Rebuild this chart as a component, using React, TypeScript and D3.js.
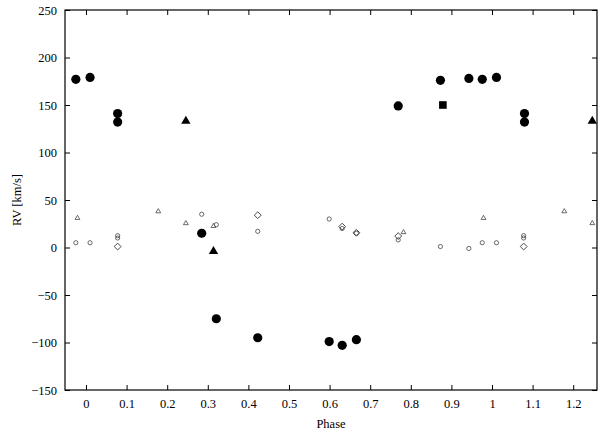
import * as d3 from "d3";
import { useEffect, useRef } from "react";

// star RV curve: primary (big filled) and secondary/lines (small open)
const bigCirclePhase = [-0.025, 0.01, 0.078, 0.078, 0.285, 0.321, 0.423, 0.599, 0.631, 0.666, 0.769, 0.873, 0.943, 0.976, 1.011, 1.08, 1.08];
const bigCircleRV = [177, 179, 141, 132, 15, -75, -95, -99, -103, -97, 149, 176, 178, 177, 179, 141, 132];

const bigTriPhase = [0.246, 0.314, 1.247];
const bigTriRV = [133, -4, 133];

const squarePhase = [0.879];
const squareRV = [150];

const smallCirclePhase = [-0.025, 0.01, 0.078, 0.078, 0.285, 0.321, 0.423, 0.599, 0.631, 0.666, 0.769, 0.873, 0.943, 0.976, 1.011, 1.078, 1.078];
const smallCircleRV = [5, 5, 12.5, 10, 35, 24, 17, 30, 20, 15, 8, 1, -1, 5, 5, 12.5, 10];

const smallTriPhase = [-0.021, 0.178, 0.246, 0.314, 0.782, 0.979, 1.178, 1.247];
const smallTriRV = [31, 38, 25.5, 22.5, 16, 31, 38, 25.5];

const diamondPhase = [0.078, 0.423, 0.631, 0.666, 0.769, 1.078];
const diamondRV = [1, 34, 22, 15.5, 12, 1];

const xTicks = [0, 0.1, 0.2, 0.3, 0.4, 0.5, 0.6, 0.7, 0.8, 0.9, 1, 1.1, 1.2];
const yTicks = [-150, -100, -50, 0, 50, 100, 150, 200, 250];

const FONT = "'Liberation Serif', 'DejaVu Serif', serif";

const App = () => {
    const ref = useRef<SVGGElement>(null);

    useEffect(() => {
        const g = d3.select(ref.current);
        g.selectAll("*").remove();

        const left = 65, right = 597, top = 10, bottom = 390;
        const x = d3.scaleLinear().domain([-0.0517, 1.2586]).range([left, right]);
        const y = d3.scaleLinear().domain([-150, 250]).range([bottom, top]);
        const tl = 5;

        // axes with inward ticks, mirrored on top and right
        const fmt = (d: number) => (d < 0 ? "\u2212" + Math.abs(d) : String(d));
        const gx = g.append("g").attr("transform", `translate(0,${bottom})`)
            .call(d3.axisBottom(x).tickValues(xTicks).tickSize(-tl).tickPadding(9).tickFormat((d) => String(d)));
        g.append("g").attr("transform", `translate(0,${top})`)
            .call(d3.axisTop(x).tickValues(xTicks).tickSize(-tl).tickFormat(() => ""));
        const gy = g.append("g").attr("transform", `translate(${left},0)`)
            .call(d3.axisLeft(y).tickValues(yTicks).tickSize(-tl).tickPadding(8).tickFormat((d) => fmt(+d)));
        g.append("g").attr("transform", `translate(${right},0)`)
            .call(d3.axisRight(y).tickValues(yTicks).tickSize(-tl).tickFormat(() => ""));

        g.selectAll(".domain").remove();
        g.selectAll(".tick line").attr("stroke", "#000").attr("stroke-width", 1);
        [gx, gy].forEach((a) => {
            a.attr("font-family", FONT).attr("font-size", 12.5);
            a.selectAll("text").attr("fill", "#000");
        });

        g.append("rect")
            .attr("x", left).attr("y", top)
            .attr("width", right - left).attr("height", bottom - top)
            .attr("fill", "none").attr("stroke", "#000").attr("stroke-width", 1.2);

        const pts = (ph: number[], rv: number[]) => ph.map((p, i) => [p, rv[i]]);

        // small open circles
        g.append("g").selectAll("circle").data(pts(smallCirclePhase, smallCircleRV)).enter()
            .append("circle")
            .attr("cx", (d) => x(d[0])).attr("cy", (d) => y(d[1])).attr("r", 2.1)
            .attr("fill", "none").attr("stroke", "#444").attr("stroke-width", 0.8);

        // small open triangles
        const triSmall = d3.symbol().type(d3.symbolTriangle).size(10);
        g.append("g").selectAll("path").data(pts(smallTriPhase, smallTriRV)).enter()
            .append("path")
            .attr("d", triSmall)
            .attr("transform", (d) => `translate(${x(d[0])},${y(d[1])})`)
            .attr("fill", "none").attr("stroke", "#444").attr("stroke-width", 0.8);

        // open diamonds
        const dh = 3.4;
        const diamondPath = `M0,${-dh}L${dh},0L0,${dh}L${-dh},0Z`;
        g.append("g").selectAll("path").data(pts(diamondPhase, diamondRV)).enter()
            .append("path")
            .attr("d", diamondPath)
            .attr("transform", (d) => `translate(${x(d[0])},${y(d[1])})`)
            .attr("fill", "none").attr("stroke", "#333").attr("stroke-width", 0.9);

        // big filled circles
        g.append("g").selectAll("circle").data(pts(bigCirclePhase, bigCircleRV)).enter()
            .append("circle")
            .attr("cx", (d) => x(d[0])).attr("cy", (d) => y(d[1])).attr("r", 4.6)
            .attr("fill", "#000");

        // big filled triangles
        const triBig = d3.symbol().type(d3.symbolTriangle).size(38);
        g.append("g").selectAll("path").data(pts(bigTriPhase, bigTriRV)).enter()
            .append("path")
            .attr("d", triBig)
            .attr("transform", (d) => `translate(${x(d[0])},${y(d[1])})`)
            .attr("fill", "#000");

        // filled square
        const sq = d3.symbol().type(d3.symbolSquare).size(58);
        g.append("g").selectAll("path").data(pts(squarePhase, squareRV)).enter()
            .append("path")
            .attr("d", sq)
            .attr("transform", (d) => `translate(${x(d[0])},${y(d[1])})`)
            .attr("fill", "#000");
    }, []);

    return (
        <svg width={600} height={433} style={{ display: "block", position: "absolute", left: 0, top: 0, background: "#fff" }}>
            <g ref={ref} />
            <text x={331} y={428} textAnchor="middle" fontFamily={FONT} fontSize={12.5}>Phase</text>
            <text transform="translate(21,200) rotate(-90)" textAnchor="middle" fontFamily={FONT} fontSize={12.5}>RV [km/s]</text>
        </svg>
    );
};

export default App;
